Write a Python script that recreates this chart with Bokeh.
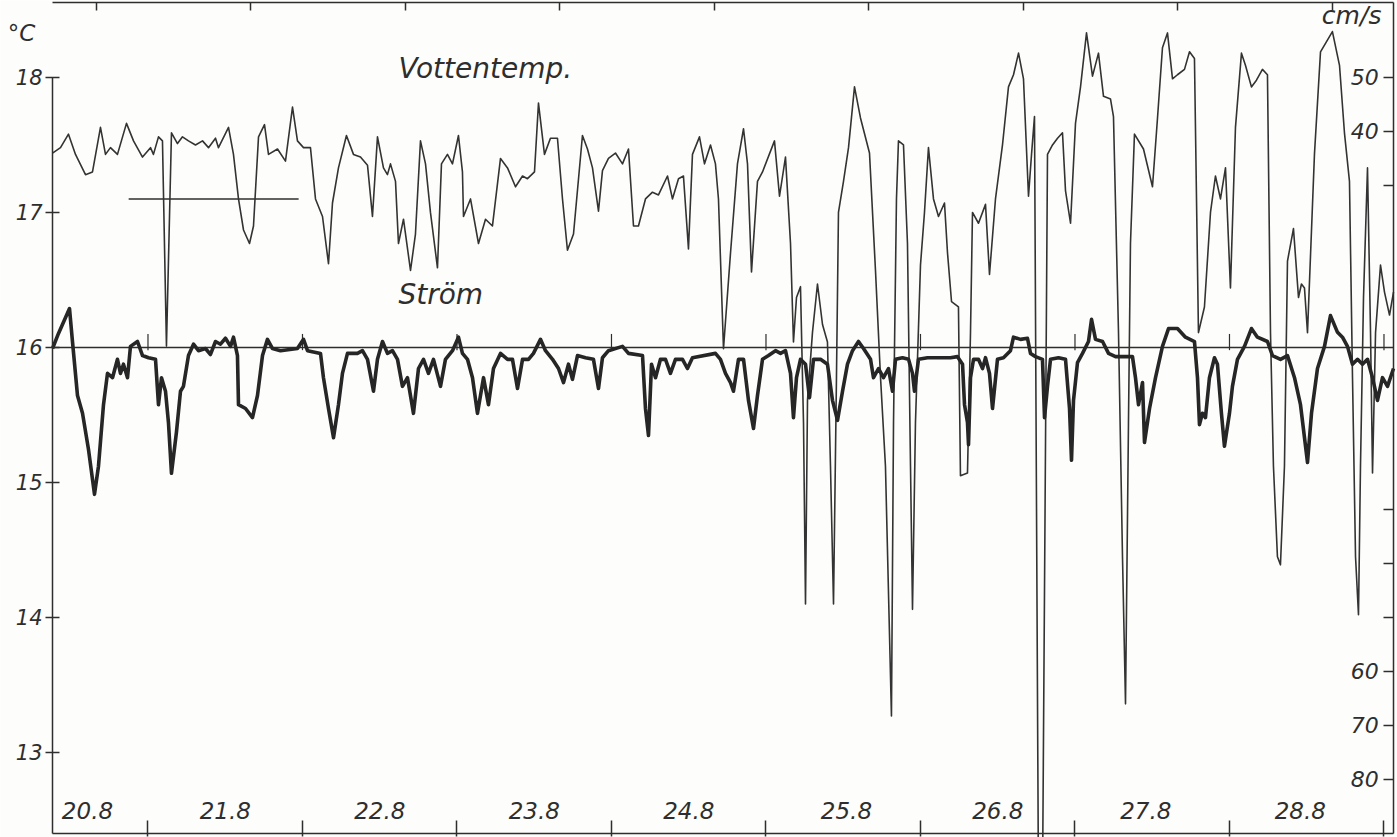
from bokeh.plotting import figure
from bokeh.models import Range1d, LinearAxis, FixedTicker
from bokeh.core.properties import value
from bokeh.embed import file_html
from bokeh.resources import INLINE

# Time axis: hours counted from 20 August 00:00
temp_hours = [
    9.17, 10.41, 11.65, 12.74, 14.29, 15.38, 16.62, 17.40, 18.17, 19.26,
    20.66, 21.75, 23.15, 24.39, 24.85, 25.63, 26.25, 26.87, 27.65, 28.58,
    29.36, 30.29, 31.38, 32.47, 33.40, 34.49, 34.95, 36.51, 37.28, 38.06,
    38.84, 39.77, 40.39, 41.17, 42.10, 42.72, 44.12, 45.36, 46.45, 47.22,
    48.16, 49.24, 50.02, 51.11, 52.04, 52.66, 53.59, 54.83, 55.92, 57.01,
    58.10, 58.87, 59.65, 60.58, 61.20, 61.67, 62.45, 62.91, 63.69, 64.78,
    65.55, 66.33, 67.11, 67.88, 68.97, 69.59, 70.52, 71.30, 72.23, 72.85,
    73.01, 74.10, 75.34, 76.43, 77.51, 78.76, 79.85, 81.09, 82.18, 82.95,
    84.04, 84.66, 85.59, 86.52, 87.61, 88.39, 89.16, 90.10, 91.49, 92.27,
    93.05, 93.98, 94.60, 95.53, 96.62, 97.71, 98.64, 99.42, 100.19, 101.28,
    102.37, 103.30, 104.70, 105.47, 106.41, 107.18, 107.96, 108.58, 109.67, 110.45,
    111.38, 112.15, 112.62, 113.40, 114.49, 115.57, 116.51, 117.13, 117.75, 118.68,
    119.46, 121.32, 122.10, 123.03, 123.81, 124.27, 124.74, 125.36, 125.83, 126.14,
    126.45, 127.22, 128.00, 128.78, 129.55, 130.02, 130.49, 130.95, 131.26, 132.04,
    132.82, 133.75, 134.68, 136.08, 137.01, 137.79, 138.56, 139.49, 139.81, 140.27,
    140.58, 141.36, 141.98, 142.45, 142.76, 143.22, 144.00, 144.62, 145.24, 146.02,
    146.80, 147.73, 148.20, 148.82, 149.90, 150.21, 151.30, 151.77, 152.08, 153.01,
    154.10, 154.72, 155.65, 156.74, 157.67, 158.45, 159.23, 160.00, 160.78, 161.25,
    161.71, 162.33, 162.95, 163.73, 164.51, 165.29, 166.06, 166.53, 167.31, 168.08,
    168.86, 169.79, 170.72, 171.65, 172.43, 173.52, 173.98, 174.76, 175.38, 175.85,
    176.31, 176.62, 177.24, 178.64, 180.04, 180.82, 181.59, 182.37, 183.15, 183.92,
    185.01, 185.79, 186.56, 187.18, 188.11, 189.05, 189.82, 190.60, 191.38, 192.15,
    192.93, 193.86, 194.48, 195.41, 196.19, 197.12, 197.90, 198.37, 198.83, 199.45,
    199.92, 200.54, 201.01, 201.94, 202.72, 203.18, 203.65, 204.12, 205.20, 206.14,
    207.99, 209.09, 209.86, 210.64, 211.11, 211.58, 212.04, 212.35, 212.82, 213.44,
    213.91, 214.22, 214.69, 215.46, 216.08, 216.86, 217.48,
]
temp_c = [
    17.44, 17.48, 17.58, 17.43, 17.28, 17.30, 17.63, 17.43, 17.48, 17.43,
    17.66, 17.53, 17.41, 17.48, 17.43, 17.56, 17.53, 16.01, 17.59, 17.51,
    17.56, 17.53, 17.50, 17.53, 17.48, 17.55, 17.48, 17.63, 17.43, 17.10,
    16.87, 16.77, 16.90, 17.56, 17.65, 17.43, 17.47, 17.38, 17.78, 17.53,
    17.48, 17.48, 17.10, 16.97, 16.62, 17.07, 17.33, 17.57, 17.43, 17.41,
    17.35, 16.97, 17.56, 17.33, 17.28, 17.36, 17.23, 16.77, 16.95, 16.57,
    16.84, 17.53, 17.36, 17.00, 16.59, 17.36, 17.43, 17.36, 17.57, 17.30,
    16.97, 17.10, 16.77, 16.95, 16.90, 17.40, 17.33, 17.19, 17.27, 17.25,
    17.30, 17.81, 17.43, 17.55, 17.55, 17.10, 16.72, 16.84, 17.57, 17.47,
    17.33, 17.01, 17.31, 17.40, 17.44, 17.36, 17.47, 16.90, 16.90, 17.10,
    17.15, 17.13, 17.27, 17.10, 17.25, 17.27, 16.73, 17.43, 17.56, 17.36,
    17.50, 17.36, 17.10, 15.99, 16.70, 17.36, 17.62, 17.36, 16.56, 17.23,
    17.30, 17.53, 17.12, 17.41, 16.77, 16.04, 16.37, 16.45, 15.44, 14.10,
    15.61, 16.11, 16.47, 16.17, 16.04, 15.12, 14.10, 15.78, 17.00, 17.23,
    17.48, 17.93, 17.70, 17.44, 16.57, 15.78, 15.12, 13.27, 15.44, 17.10,
    17.53, 17.50, 16.77, 15.12, 14.06, 15.44, 16.61, 17.00, 17.48, 17.10,
    16.97, 17.07, 16.70, 16.34, 16.30, 15.05, 15.07, 16.11, 17.00, 16.92,
    17.06, 16.54, 17.10, 17.50, 17.93, 18.02, 18.18, 17.99, 17.12, 17.43,
    17.71, 12.00, 12.00, 17.43, 17.50, 17.55, 17.59, 17.16, 16.92, 17.66,
    17.93, 18.33, 18.01, 18.18, 17.86, 17.84, 17.71, 16.11, 14.45, 13.36,
    15.44, 16.77, 17.58, 17.47, 17.19, 17.70, 18.22, 18.33, 17.99, 18.02,
    18.06, 18.19, 18.14, 16.11, 16.30, 17.00, 17.27, 17.10, 17.33, 16.44,
    17.63, 18.18, 18.09, 17.93, 17.98, 18.06, 18.02, 16.11, 15.12, 14.45,
    14.39, 15.12, 16.64, 16.88, 16.37, 16.47, 16.44, 16.11, 17.43, 18.19,
    18.34, 18.09, 17.59, 17.23, 15.78, 14.45, 14.02, 15.12, 16.37, 17.33,
    16.11, 15.07, 16.11, 16.61, 16.41, 16.24, 16.41,
]

# Current speed in cm/s (positive above the 16 degree line, negative below)
strom_hours = [
    9.17, 10.10, 11.81, 12.27, 13.05, 13.83, 14.76, 15.69, 16.31, 17.09,
    17.71, 18.49, 19.26, 19.73, 20.19, 20.82, 21.28, 22.37, 23.15, 24.08,
    25.17, 25.63, 26.10, 26.72, 27.18, 27.65, 28.43, 29.05, 29.51, 30.29,
    31.07, 31.84, 32.93, 33.71, 34.49, 35.26, 36.04, 36.82, 37.28, 37.90,
    38.06, 39.15, 40.23, 41.01, 41.79, 42.56, 43.34, 44.58, 47.22, 48.16,
    48.78, 50.80, 51.26, 52.04, 52.82, 53.59, 54.21, 54.99, 56.54, 57.32,
    58.10, 59.03, 59.65, 60.43, 61.20, 61.98, 62.76, 63.53, 64.31, 65.24,
    66.02, 66.80, 67.57, 68.35, 69.44, 70.21, 71.30, 72.23, 72.85, 73.63,
    74.41, 75.18, 76.12, 76.89, 77.67, 78.76, 79.85, 80.62, 81.40, 82.18,
    83.11, 83.88, 84.97, 85.75, 86.84, 87.77, 88.55, 89.32, 89.94, 90.72,
    91.96, 93.20, 93.98, 94.60, 95.53, 97.71, 98.64, 100.82, 101.28, 101.75,
    102.22, 102.84, 103.61, 104.39, 105.16, 105.94, 107.03, 107.80, 108.58, 112.15,
    112.93, 113.71, 114.49, 114.95, 115.73, 116.51, 117.28, 118.06, 118.68, 119.46,
    120.39, 121.48, 122.26, 123.03, 123.81, 124.27, 124.74, 125.36, 126.14, 126.76,
    127.38, 128.47, 129.55, 130.33, 131.11, 131.89, 132.66, 133.44, 134.37, 135.15,
    136.24, 136.70, 137.48, 138.25, 139.03, 139.65, 140.12, 141.21, 142.14, 142.76,
    143.07, 143.69, 145.09, 148.66, 149.75, 150.53, 150.84, 151.30, 151.46, 151.77,
    152.24, 153.01, 153.64, 154.10, 154.72, 155.19, 155.96, 156.89, 157.98, 158.45,
    159.54, 160.62, 161.09, 161.87, 162.95, 163.27, 163.73, 164.20, 165.44, 166.53,
    167.15, 167.46, 167.77, 168.39, 169.17, 170.10, 170.57, 171.19, 172.28, 173.21,
    174.30, 176.93, 177.40, 177.87, 178.49, 178.80, 179.58, 180.51, 181.59, 182.53,
    183.92, 185.16, 186.56, 187.03, 187.34, 187.80, 188.27, 188.89, 189.67, 190.13,
    190.75, 191.22, 192.00, 192.46, 193.24, 194.33, 195.41, 196.34, 197.90, 198.68,
    199.92, 201.01, 202.10, 203.03, 204.12, 204.74, 205.67, 206.76, 207.69, 208.78,
    209.55, 210.33, 211.11, 211.89, 212.66, 213.44, 214.22, 214.99, 215.77, 216.55,
    217.48,
]
strom_cms = [
    -0.2, 2.6, 7.2, 1.1, -8.9, -12.2, -18.9, -27.2, -22.0, -10.6,
    -4.8, -5.6, -2.2, -4.8, -3.1, -5.6, 0.2, 1.1, -1.5, -1.9,
    -2.2, -10.6, -5.6, -8.1, -13.9, -23.3, -15.6, -8.1, -7.2, -1.5,
    0.6, -0.6, -0.2, -1.3, 1.1, 0.6, 1.7, 0.2, 1.9, -1.5,
    -10.6, -11.3, -13.0, -8.9, -1.5, 1.5, -0.2, -0.6, -0.2, 1.5,
    -0.6, -1.1, -5.6, -11.3, -16.7, -10.6, -4.8, -1.1, -1.1, -0.6,
    -2.2, -8.1, -2.2, 1.1, -1.1, -0.6, -2.2, -7.2, -5.6, -12.2,
    -3.9, -2.2, -4.8, -2.2, -7.2, -2.2, -0.6, 1.9, -1.1, -2.2,
    -5.6, -12.2, -5.6, -10.6, -3.9, -1.1, -2.2, -2.2, -7.6, -2.2,
    -2.2, -1.1, 1.5, -0.6, -2.2, -3.9, -6.5, -3.1, -5.9, -1.5,
    -1.9, -2.2, -7.6, -1.9, -0.6, 0.2, -1.1, -1.5, -11.3, -16.3,
    -3.1, -5.6, -2.2, -2.2, -4.8, -2.2, -2.2, -3.9, -1.9, -1.1,
    -2.2, -4.8, -6.5, -8.1, -2.2, -2.2, -9.8, -15.0, -8.9, -2.2,
    -1.5, -0.6, -1.1, -0.6, -4.8, -13.0, -5.6, -2.2, -3.1, -9.3,
    -2.2, -2.2, -3.1, -9.8, -13.5, -8.1, -3.1, -0.6, 1.1, -0.2,
    -2.2, -5.6, -3.9, -5.6, -3.9, -8.1, -2.2, -1.9, -2.2, -4.8,
    -8.1, -2.2, -1.9, -1.9, -1.7, -3.1, -10.6, -13.9, -18.0, -5.6,
    -2.2, -2.2, -3.9, -1.9, -4.8, -11.3, -2.2, -1.9, -0.6, 1.9,
    1.5, 1.7, -1.1, -1.7, -2.2, -13.0, -7.2, -2.2, -1.9, -2.2,
    -11.3, -20.9, -9.8, -2.8, -1.1, 1.1, 5.2, 1.5, 1.1, -1.1,
    -1.7, -1.7, -5.6, -10.6, -6.5, -17.6, -11.3, -5.6, 0.2, 3.5,
    3.5, 1.9, 1.1, -5.6, -14.3, -12.2, -13.0, -5.6, -1.9, -3.1,
    -12.2, -18.3, -12.2, -7.2, -2.2, 0.2, 3.5, 1.9, 1.1, -1.5,
    -2.2, -1.5, -5.6, -10.6, -21.3, -12.2, -3.9, 0.2, 5.9, 2.8,
    1.9, 0.2, -3.1, -2.2, -3.1, -2.2, -5.6, -9.8, -5.6, -7.2,
    -3.9,
]

# Axis ticks and labels
temp_ticks = [13, 14, 15, 16, 17, 18]
day_ticks = [24, 48, 72, 96, 120, 144, 168, 192, 216]
noon_ticks = [16, 40, 64, 88, 112, 136, 160, 184, 208]
day_labels = ["20.8", "21.8", "22.8", "23.8", "24.8", "25.8", "26.8", "27.8", "28.8"]
day_label_hours = [14.6, 36, 60, 84, 108, 132.5, 156, 179, 203]
strom_ticks = [-80, -70, -60, -50, -40, -30, 30, 40, 50]
strom_label_values = [50, 40, -60, -70, -80]
strom_label_texts = ["50", "40", "60", "70", "80"]

# Scale link: 16 degC is zero current, 1 degC corresponds to 25 cm/s
ZERO_TEMP = 16.0
CMS_PER_DEG = 25.0
# drawing area (frame lines) and the full page extent around it
H_LEFT, H_RIGHT = 9.17, 217.48
T_BOTTOM, T_TOP = 12.4, 18.556
VIEW_X = (1.09, 218.1)
VIEW_Y = (12.37, 18.57)
MARK_LEVEL = 17.1
MARK_SPAN = (21.0, 47.4)

INK = "#2e2e2e"
PAPER = "#fdfdfb"
FONT = value("DejaVu Sans")

p = figure(
    width=1397, height=837,
    x_range=Range1d(*VIEW_X), y_range=Range1d(*VIEW_Y),
    x_axis_location=None, y_axis_location=None,
    output_backend="svg", toolbar_location=None,
    min_border=0, min_border_left=0, min_border_right=0,
    min_border_top=0, min_border_bottom=0,
    background_fill_color=PAPER, border_fill_color=PAPER,
)
p.outline_line_color = None
p.xgrid.visible = False
p.ygrid.visible = False
p.extra_y_ranges = {"strom": Range1d((VIEW_Y[0] - ZERO_TEMP) * CMS_PER_DEG,
                                     (VIEW_Y[1] - ZERO_TEMP) * CMS_PER_DEG)}


def frame_axis(ax, tick_in, tick_out, show_labels=False):
    ax.major_tick_in = tick_in
    ax.major_tick_out = tick_out
    ax.minor_tick_line_color = None
    ax.axis_line_color = INK
    ax.major_tick_line_color = INK
    ax.axis_line_width = 1.5
    ax.major_tick_line_width = 1.5
    if show_labels:
        ax.major_label_text_font = "DejaVu Sans"
        ax.major_label_text_font_style = "italic"
        ax.major_label_text_font_size = "21px"
        ax.major_label_text_color = INK
        ax.major_label_standoff = 3
    else:
        ax.major_label_text_color = None


left = LinearAxis(ticker=FixedTicker(ticks=temp_ticks), bounds=(T_BOTTOM, 18),
                  fixed_location=H_LEFT)
frame_axis(left, 7, 7, show_labels=True)
p.add_layout(left, "left")

bottom = LinearAxis(ticker=FixedTicker(ticks=day_ticks), bounds=(H_LEFT, H_RIGHT),
                    fixed_location=T_BOTTOM)
frame_axis(bottom, 13, 3)
p.add_layout(bottom, "below")

top = LinearAxis(ticker=FixedTicker(ticks=noon_ticks), bounds=(H_LEFT, H_RIGHT),
                 fixed_location=T_TOP)
frame_axis(top, 8, 0)
p.add_layout(top, "above")

right = LinearAxis(y_range_name="strom", ticker=FixedTicker(ticks=strom_ticks),
                   bounds=((T_BOTTOM - ZERO_TEMP) * CMS_PER_DEG, (T_TOP - ZERO_TEMP) * CMS_PER_DEG),
                   fixed_location=H_RIGHT)
frame_axis(right, 10, 0)
p.add_layout(right, "right")

# zero line of the current (16 degC) and short day marks on it
p.line(x=[H_LEFT, H_RIGHT], y=[ZERO_TEMP, ZERO_TEMP], line_color=INK, line_width=1.5)
p.segment(x0=day_ticks, y0=[ZERO_TEMP - 0.02] * len(day_ticks),
          x1=day_ticks, y1=[ZERO_TEMP + 0.1] * len(day_ticks),
          line_color=INK, line_width=1.2)
p.line(x=list(MARK_SPAN), y=[MARK_LEVEL, MARK_LEVEL], line_color=INK, line_width=1.6)

# water temperature (thin) and current (heavy)
p.line(x=temp_hours, y=temp_c, line_color="#333333", line_width=1.6, line_join="round")
p.line(x=strom_hours, y=strom_cms, y_range_name="strom",
       line_color="#262626", line_width=3.6, line_join="round")

text_style = dict(text_font=FONT, text_font_style="italic", text_color=INK,
                  text_baseline="middle")
p.text(x=day_label_hours, y=[12.57] * len(day_labels), text=day_labels,
       text_font_size="23px", text_align="center", **text_style)
p.text(x=[215.2] * len(strom_label_values), y=strom_label_values, text=strom_label_texts,
       y_range_name="strom", text_font_size="22px", text_align="right", **text_style)
p.text(x=[215.6], y=[18.46], text=["cm/s"], text_font_size="25px", text_align="right",
       **text_style)
p.text(x=[2.2], y=[18.33], text=["°C"], text_font_size="23px", text_align="left",
       **text_style)
p.text(x=[62.9], y=[18.07], text=["Vottentemp."], text_font_size="28px",
       text_align="left", **text_style)
p.text(x=[62.9], y=[16.39], text=["Ström"], text_font_size="28px",
       text_align="left", **text_style)

open("out.html", "w").write(file_html(p, INLINE))
